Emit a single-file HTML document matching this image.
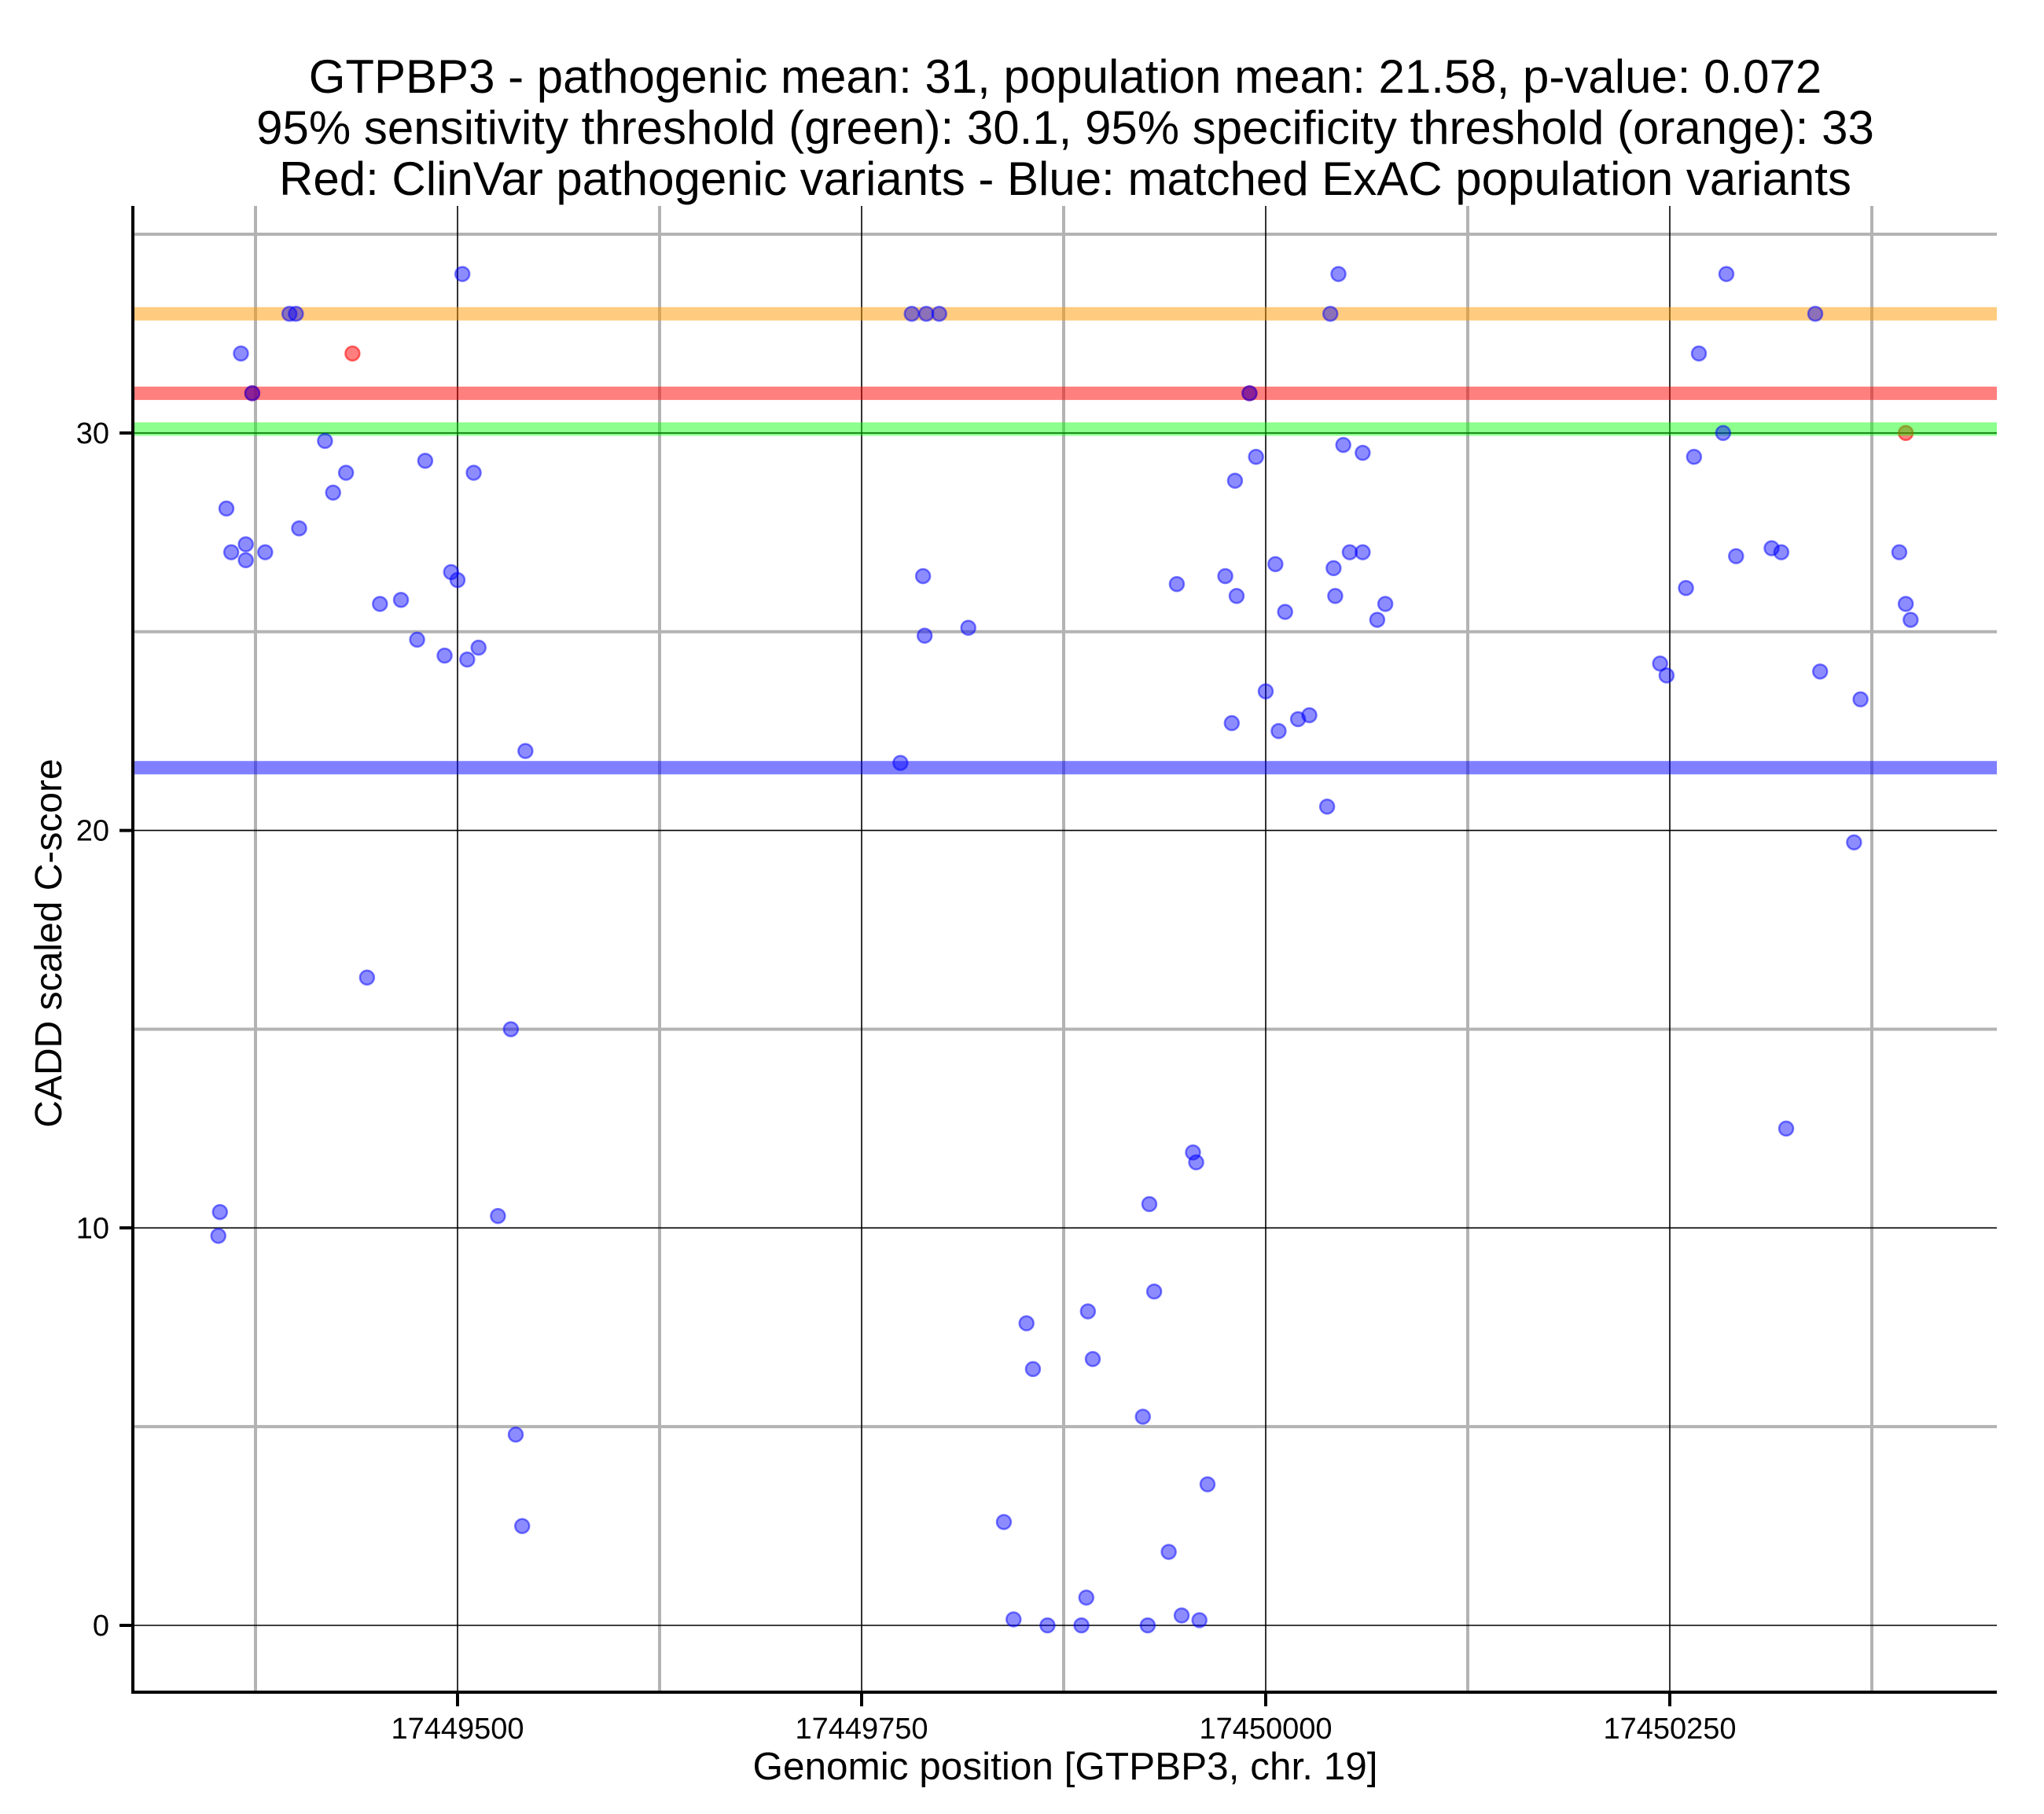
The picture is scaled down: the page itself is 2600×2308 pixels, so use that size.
<!DOCTYPE html>
<html><head><meta charset="utf-8"><style>
html,body{margin:0;padding:0;background:#fff}
svg{display:block;font-family:"Liberation Sans",Arial,sans-serif}
</style></head><body>
<svg id="chart" width="2600" height="2308" viewBox="0 0 2600 2308" xmlns="http://www.w3.org/2000/svg">
<g font-size="60" text-anchor="middle" fill="#000">
<text x="1355" y="118">GTPBP3 - pathogenic mean: 31, population mean: 21.58, p-value: 0.072</text>
<text x="1355" y="183">95% sensitivity threshold (green): 30.1, 95% specificity threshold (orange): 33</text>
<text x="1355" y="248">Red: ClinVar pathogenic variants - Blue: matched ExAC population variants</text>
</g>
<g id="grid"></g>
<g id="redpoints"></g>
<g id="hlines"></g>
<g id="points"></g>
<g id="axes"></g>
<text x="1355" y="2264" font-size="49.5" text-anchor="middle">Genomic position [GTPBP3, chr. 19]</text>
<text transform="translate(78,1200) rotate(-90)" font-size="48" text-anchor="middle">CADD scaled C-score</text>
</svg>
<script>
const xTicks = [17449500, 17449750, 17450000, 17450250];
const xMinor = [17449375, 17449625, 17449875, 17450125, 17450375];
const yTicks = [0, 10, 20, 30];
const yMinor = [5, 15, 25, 35];
const hlineValues = [33, 31, 30.1, 21.58];
const hlineColors = ['rgba(255,153,0,0.5)', 'rgba(255,0,0,0.5)', 'rgba(0,255,0,0.45)', 'rgba(0,0,255,0.5)'];
const hlineNames = ['specificity-threshold-line', 'pathogenic-mean-line', 'sensitivity-threshold-line', 'population-mean-line'];
const bluePos = [17449352,17449353,17449357,17449360,17449366,17449369,17449369,17449373,17449381,17449396,17449400,17449402,17449418,17449423,17449431,17449444,17449452,17449465,17449475,17449480,17449492,17449496,17449500,17449503,17449506,17449510,17449513,17449525,17449533,17449536,17449540,17449542,
17449774,17449781,17449788,17449789,17449790,17449798,17449816,17449838,17449844,17449852,17449856,17449865,17449886,17449889,17449890,17449893,17449924,17449927,17449928,17449931,17449940,17449945,17449948,17449955,17449957,17449959,17449964,17449975,17449979,17449981,17449982,17449990,17449994,17450000,17450006,17450008,17450012,17450020,17450027,17450038,17450040,17450042,17450043,17450045,17450048,17450052,17450060,17450060,17450069,17450074,
17450244,17450248,17450260,17450265,17450268,17450283,17450285,17450291,17450313,17450319,17450322,17450340,17450343,17450364,17450368,17450392,17450396,17450399];
const blueScore = [9.8,10.4,28.1,27.0,32.0,27.2,26.8,31,27.0,33,33,27.6,29.8,28.5,29.0,16.3,25.7,25.8,24.8,29.3,24.4,26.5,26.3,34.0,24.3,29.0,24.6,10.3,15.0,4.8,2.5,22.0,
21.7,33,26.4,24.9,33,33,25.1,2.6,0.15,7.6,6.45,0,0,0.7,7.9,6.7,5.25,0,10.6,8.4,1.85,26.2,0.25,11.9,11.65,0.13,3.55,26.4,22.7,28.8,25.9,31,29.4,23.5,26.7,22.5,25.5,22.8,22.9,20.6,33,26.6,25.9,34.0,29.7,27.0,27.0,29.5,25.3,25.7,
24.2,23.9,26.1,29.4,32.0,30,34.0,26.9,27.1,27.0,12.5,33,24.0,19.7,23.3,27.0,25.7,25.3];
const redPos = [17449373, 17449435, 17449990, 17450396];
const redScore = [31, 32, 31, 30];

const NS = 'http://www.w3.org/2000/svg';
const L = 169, R = 2540, T = 262, B = 2153;
function xs(p){ return 582 + (p - 17449500) * 2.056; }
function ys(v){ return 2068 - v * 50.57; }
function mk(tag, attrs, parent){ const e = document.createElementNS(NS, tag); for (const k in attrs) e.setAttribute(k, attrs[k]); parent.appendChild(e); return e; }
const grid = document.getElementById('grid');
yMinor.forEach(v => { const e = mk('line', {x1:L, x2:R, y1:ys(v), y2:ys(v), stroke:'#b3b3b3', 'stroke-width':4}, grid);

 });
xMinor.forEach(p => { const e = mk('line', {x1:xs(p), x2:xs(p), y1:T, y2:B, stroke:'#b3b3b3', 'stroke-width':4}, grid);

 });
yTicks.forEach(v => { const e = mk('line', {x1:L, x2:R, y1:ys(v), y2:ys(v), stroke:'#000', 'stroke-width':1.6}, grid);

 });
xTicks.forEach(p => { const e = mk('line', {x1:xs(p), x2:xs(p), y1:T, y2:B, stroke:'#000', 'stroke-width':1.6}, grid);

 });
const rp = document.getElementById('redpoints');
redPos.forEach((p, i) => { const e = mk('circle', {cx:xs(p), cy:ys(redScore[i]), r:9, fill:'rgba(255,0,0,0.5)', stroke:'rgba(255,0,0,0.55)', 'stroke-width':2.5}, rp);

 });
const hl = document.getElementById('hlines');
hlineValues.forEach((v, i) => { const e = mk('line', {x1:L, x2:R, y1:ys(v), y2:ys(v), stroke:hlineColors[i], 'stroke-width':17}, hl);

 });
const pts = document.getElementById('points');
bluePos.forEach((p, i) => { const e = mk('circle', {cx:xs(p), cy:ys(blueScore[i]), r:9, fill:'rgba(0,0,255,0.45)', stroke:'rgba(0,0,255,0.5)', 'stroke-width':2.5}, pts);

 });
const ax = document.getElementById('axes');
let e1 = mk('line', {x1:L, x2:L, y1:T, y2:B+2, stroke:'#000', 'stroke-width':4}, ax);


let e2 = mk('line', {x1:L-2, x2:R, y1:B, y2:B, stroke:'#000', 'stroke-width':4}, ax);


yTicks.forEach(v => {
  const t = mk('line', {x1:152, x2:L, y1:ys(v), y2:ys(v), stroke:'#000', 'stroke-width':4}, ax);
  
  
  const lb = mk('text', {x:139, y:ys(v)+13, 'font-size':38, 'text-anchor':'end'}, ax);
  lb.textContent = v;
  
  
});
xTicks.forEach(p => {
  const t = mk('line', {x1:xs(p), x2:xs(p), y1:B, y2:B+18, stroke:'#000', 'stroke-width':4}, ax);
  
  
  const lb = mk('text', {x:xs(p), y:2212, 'font-size':38, 'text-anchor':'middle'}, ax);
  lb.textContent = p;
  
  
});
</script>
</body></html>
